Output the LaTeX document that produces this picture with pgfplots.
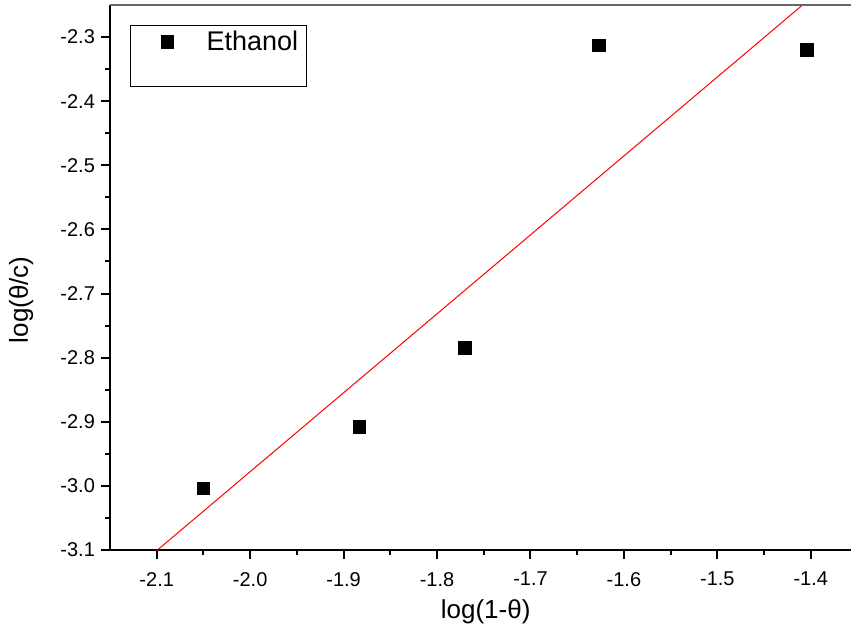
\documentclass[border=0pt]{standalone}
\usepackage{fontspec}
\setmainfont{Liberation Sans}
\usepackage{pgfplots}
\pgfplotsset{compat=1.18}

\begin{document}
\begin{tikzpicture}
  \useasboundingbox (-55pt,-41pt) rectangle (370.5pt,275pt);
  \begin{axis}[
    at={(0,0)}, anchor=south west,
    scale only axis,
    width=370.5pt, height=272.5pt,
    xmin=-2.15, xmax=-1.357,
    ymin=-3.1, ymax=-2.25,
    axis lines*=left,
    axis line style={line width=1pt, -},
    tick style={line width=1pt, black},
    tick align=outside,
    major tick length=4.5pt,
    minor tick length=2.5pt,
    xtick={-2.1,-2.0,-1.9,-1.8,-1.7,-1.6,-1.5,-1.4},
    xticklabels={-2.1,-2.0,-1.9,-1.8,-1.7,-1.6,-1.5,-1.4},
    ytick={-3.1,-3.0,-2.9,-2.8,-2.7,-2.6,-2.5,-2.4,-2.3},
    yticklabels={-3.1,-3.0,-2.9,-2.8,-2.7,-2.6,-2.5,-2.4,-2.3},
    minor x tick num=1,
    minor y tick num=1,
    tick label style={font=\fontsize{10}{12}\selectfont},
    xticklabel style={yshift=-3pt},
    yticklabel style={xshift=0.5pt},
    xlabel={log(1-θ)},
    ylabel={log(θ/c)},
    label style={font=\fontsize{13}{15}\selectfont},
    xlabel style={at={(axis description cs:0.507,-0.114)}, anchor=center},
    ylabel style={at={(axis description cs:-0.120,0.459)}, anchor=center},
    clip=true,
    legend style={at={(axis description cs:0.027,0.963)}, anchor=north west,
      draw=black, line width=0.4pt, font=\fontsize{13.5}{16}\selectfont,
      inner xsep=2pt, inner ysep=0.5pt, row sep=0pt,
      legend cell align=left},
    legend image post style={line width=0pt, xshift=8pt},
  ]
    \addplot[only marks, mark=square*, mark size=3.1pt, black] coordinates {
      (-2.050,-3.004)
      (-1.883,-2.908)
      (-1.770,-2.785)
      (-1.627,-2.313)
      (-1.404,-2.320)
    };
    \addlegendentry{\hspace{14.5pt}Ethanol\hspace{-4pt}}
    \addlegendimage{empty legend}
    \addlegendentry{\rule[-4pt]{0pt}{12.5pt}}

    \addplot[red, line width=0.5pt, mark=none, forget plot] coordinates {
      (-2.100,-3.101)
      (-1.300,-2.116)
    };

    \draw[gray!80!black, line width=0.6pt] (rel axis cs:0,1) -- (rel axis cs:1,1);
  \end{axis}
\end{tikzpicture}
\end{document}
